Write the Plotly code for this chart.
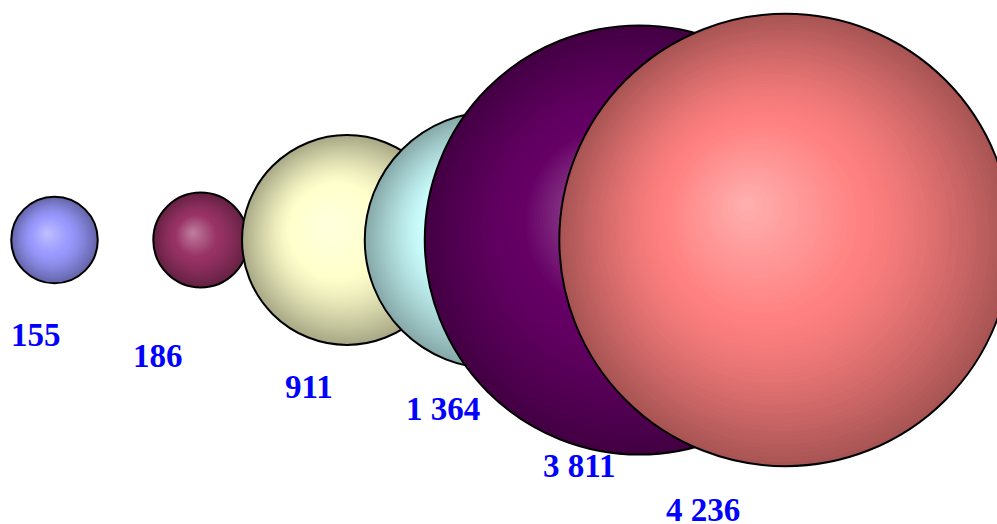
import plotly.graph_objects as go

# bubble values, left to right
values = [155, 186, 911, 1364, 3811, 4236]
colors = ["#9999FF", "#993366", "#FFFFCC", "#CCFFFF", "#660066", "#FF8080"]

# label placement relative to bubble centre, in pixels (right, down)
label_offsets = [(-19, 95), (-43, 116), (-38, 147), (-50, 169), (-60, 226), (-83, 270)]

W, H = 997, 524
X_PX = 146.2          # pixels per category step
X0_PX = 54.5          # pixel x of first category
Y0_PX = 240           # pixel y (from top) of bubble centres
SIZEREF = 0.0414
LAYERS = 60


def hex_rgb(h):
    h = h.lstrip("#")
    return [int(h[i:i + 2], 16) for i in (0, 2, 4)]


def shade(rgb, s):
    """s: 0 at highlight, 1 at rim."""
    hi = [c + 0.38 * (255 - c) for c in rgb]
    dark = [0.66 * c for c in rgb]
    if s < 0.45:
        f = s / 0.45
        col = [a + (b - a) * f for a, b in zip(hi, rgb)]
    else:
        f = (s - 0.45) / 0.55
        f = f ** 1.3
        col = [a + (b - a) * f for a, b in zip(rgb, dark)]
    return "rgb(%d,%d,%d)" % tuple(round(c) for c in col)


fig = go.Figure()

for i, (v, c) in enumerate(zip(values, colors)):
    rgb = hex_rgb(c)
    r_px = (v / SIZEREF / 2) ** 0.5 / 2
    hx = -0.35 * r_px / X_PX   # highlight offset in data units
    hy = 0.32 * r_px
    xs, ys, sizes, cols, lw = [], [], [], [], []
    for k in range(LAYERS):
        t = k / LAYERS
        xs.append(i + t * hx)
        ys.append(t * hy)
        sizes.append(v * (1 - t) ** 2)
        cols.append(shade(rgb, 1 - t))
        lw.append(0)
    # outline on top
    xs.append(i)
    ys.append(0)
    sizes.append(v)
    cols.append("rgba(0,0,0,0)")
    lw.append(2)
    fig.add_trace(go.Scatter(
        x=xs, y=ys, mode="markers",
        marker=dict(size=sizes, sizemode="area", sizeref=SIZEREF,
                    color=cols, opacity=1,
                    line=dict(width=lw, color="black")),
        hoverinfo="skip", showlegend=False,
    ))

for i, v in enumerate(values):
    dx, dy = label_offsets[i]
    fig.add_annotation(
        x=i, y=0, xref="x", yref="y",
        text=f"{v:,}".replace(",", " "),
        showarrow=False, xshift=dx, yshift=-dy,
        xanchor="center", yanchor="middle",
        font=dict(family="Liberation Serif", size=33, color="#0000FF",
                  weight="bold"),
    )

fig.update_layout(
    width=W, height=H,
    margin=dict(l=0, r=0, t=0, b=0),
    paper_bgcolor="white", plot_bgcolor="white",
    xaxis=dict(visible=False, range=[-X0_PX / X_PX, (W - X0_PX) / X_PX]),
    yaxis=dict(visible=False, range=[-(H - Y0_PX), Y0_PX]),
)

fig.write_html("out.html",
               config={"displayModeBar": False},
               post_script="document.body.style.margin='0px';"
                           "document.body.style.overflow='hidden';")
